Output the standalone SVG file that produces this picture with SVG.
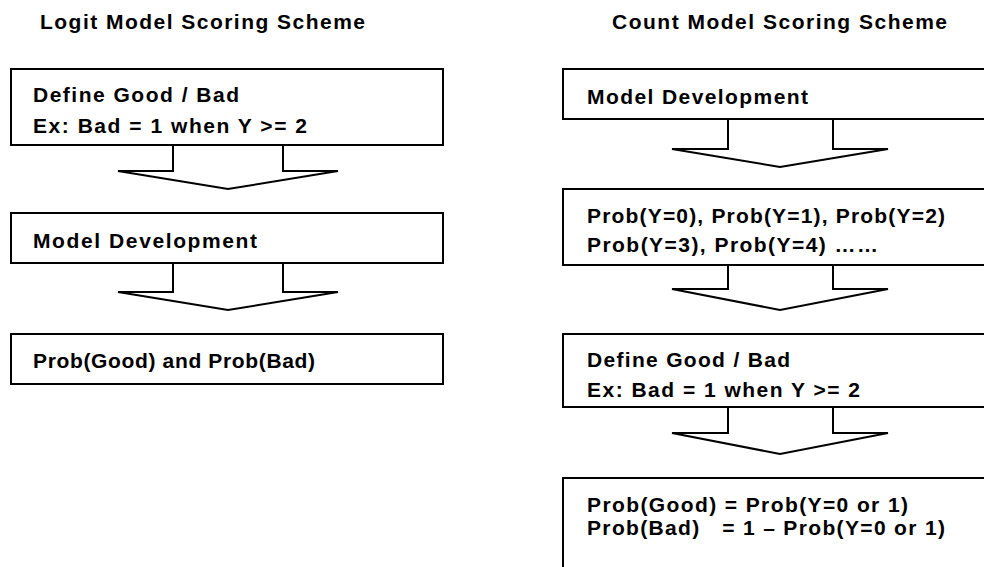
<svg xmlns="http://www.w3.org/2000/svg" width="984" height="567" viewBox="0 0 984 567">
<style>
.bg{fill:#ffffff}
.box{fill:#ffffff;stroke:#000000;stroke-width:2}
.arrow{fill:#ffffff;stroke:#000000;stroke-width:2;stroke-linejoin:miter}
.t{font-family:"Liberation Sans",Arial,sans-serif;font-weight:bold;font-size:21px;fill:#000000}
.title{font-family:"Liberation Sans",Arial,sans-serif;font-weight:bold;font-size:21px;fill:#000000}
</style>
<rect class="bg" x="0" y="0" width="984" height="567"/>
<g id="titles">
<text class="title" x="40" y="29" textLength="325" lengthAdjust="spacing">Logit Model Scoring Scheme</text>
<text class="title" x="612" y="29" textLength="335" lengthAdjust="spacing">Count Model Scoring Scheme</text>
</g>
<g id="connectors">
<path class="arrow" d="M173,145 L173,171 L118,171 L228,189 L338,171 L283,171 L283,145"/>
<path class="arrow" d="M173,263 L173,292 L118,292 L228,310 L338,292 L283,292 L283,263"/>
<path class="arrow" d="M728,119 L728,149 L672,149 L780,167 L888,149 L833,149 L833,119"/>
<path class="arrow" d="M728,265 L728,289 L672,289 L780,310 L888,289 L833,289 L833,265"/>
<path class="arrow" d="M728,407 L728,433 L672,433 L780,454 L888,433 L833,433 L833,407"/>
</g>
<g id="logit-define">
<rect class="box" x="11" y="69" width="432" height="76"/>
<text class="t" x="33" y="102" textLength="206" lengthAdjust="spacing">Define Good / Bad</text>
<text class="t" x="33" y="133" textLength="274" lengthAdjust="spacing">Ex: Bad = 1 when Y &gt;= 2</text>
</g>
<g id="logit-model">
<rect class="box" x="11" y="213" width="432" height="50"/>
<text class="t" x="33" y="248" textLength="224" lengthAdjust="spacing">Model Development</text>
</g>
<g id="logit-prob">
<rect class="box" x="11" y="334" width="432" height="50"/>
<text class="t" x="33" y="368" textLength="282" lengthAdjust="spacing">Prob(Good) and Prob(Bad)</text>
</g>
<g id="count-model">
<rect class="box" x="563" y="69" width="430" height="50"/>
<text class="t" x="587" y="104" textLength="221" lengthAdjust="spacing">Model Development</text>
</g>
<g id="count-probs">
<rect class="box" x="563" y="189" width="430" height="76"/>
<text class="t" x="587" y="223" textLength="358" lengthAdjust="spacing">Prob(Y=0), Prob(Y=1), Prob(Y=2)</text>
<text class="t" x="587" y="252" textLength="291" lengthAdjust="spacing">Prob(Y=3), Prob(Y=4) ……</text>
</g>
<g id="count-define">
<rect class="box" x="563" y="334" width="430" height="73"/>
<text class="t" x="587" y="367" textLength="203" lengthAdjust="spacing">Define Good / Bad</text>
<text class="t" x="587" y="397" textLength="273" lengthAdjust="spacing">Ex: Bad = 1 when Y &gt;= 2</text>
</g>
<g id="count-prob">
<rect class="box" x="563" y="478" width="430" height="100"/>
<text class="t" x="587" y="512" textLength="321" lengthAdjust="spacing">Prob(Good) = Prob(Y=0 or 1)</text>
<text class="t" x="587" y="535" textLength="358" lengthAdjust="spacing" xml:space="preserve">Prob(Bad)   = 1 – Prob(Y=0 or 1)</text>
</g>
</svg>
